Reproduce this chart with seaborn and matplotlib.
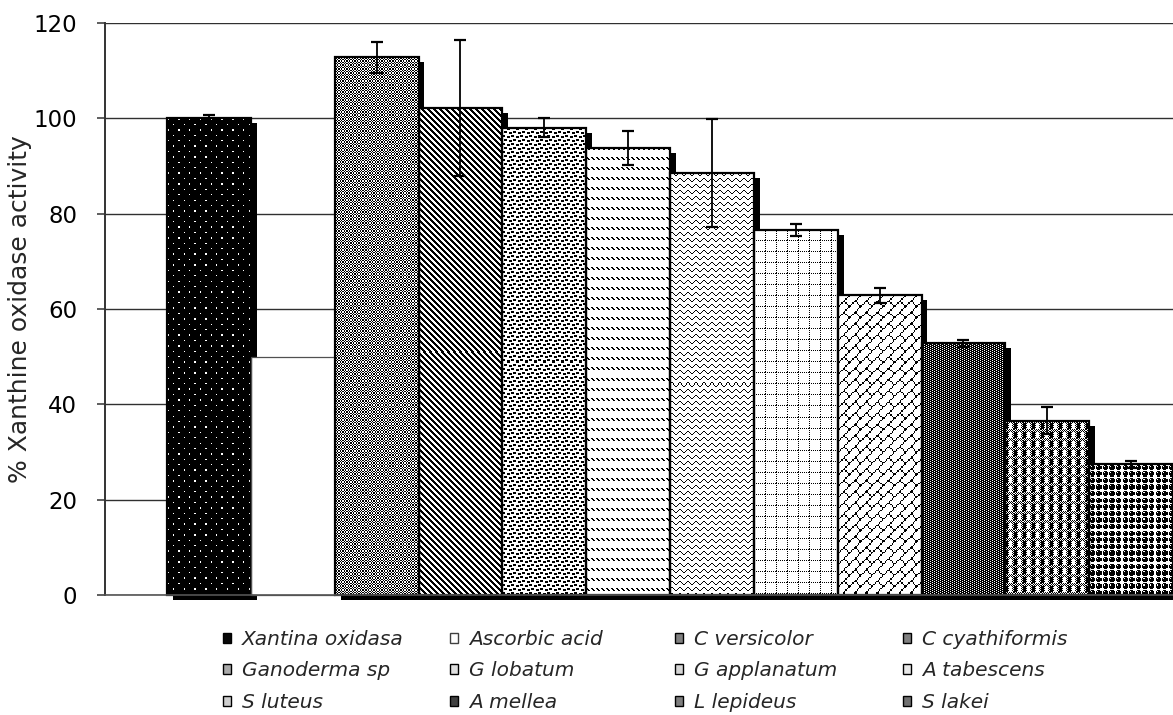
import numpy as np
import pandas as pd
import matplotlib
matplotlib.use("Agg")
import matplotlib.pyplot as plt
import matplotlib.patheffects as pe
from matplotlib.patches import Rectangle, Patch
import seaborn as sns

# ---- data -------------------------------------------------------------
samples = ["Xantina oxidasa", "Ascorbic acid", "C versicolor", "C cyathiformis",
           "Ganoderma sp", "G lobatum", "G applanatum", "A tabescens",
           "S luteus", "A mellea", "L lepideus", "S lakei"]
activity = [100.0, 50.0, 112.8, 102.2, 98.0, 93.8, 88.6, 76.6, 62.9, 52.8, 36.6, 27.4]
activity_sd = [0.6, np.nan, 3.2, 14.3, 2.0, 3.6, 11.3, 1.2, 1.6, 0.8, 2.8, 0.7]
y_ticks = [0, 20, 40, 60, 80, 100, 120]
y_label = "% Xanthine oxidase activity"


# ---- fill patterns (1 = black pixel) ------------------------------------
def rows_to_tile(rows):
    return np.array([[1 if ch == "1" else 0 for ch in r] for r in rows], dtype=float)


def checker(h, w):
    r, c = np.indices((h, w))
    return ((r + c) % 2 == 0).astype(float)


def stripes_down(period, dark):
    r, c = np.indices((period, period))
    return (((c - r) % period) < dark).astype(float)


def dotted_grid(n):
    t = np.zeros((n, n))
    t[0, ::2] = 1
    t[::2, 0] = 1
    return t


def confetti(h, w, spots, sh, sw):
    t = np.zeros((h, w))
    for r, c in spots:
        for i in range(sh):
            for j in range(sw):
                t[(r + i) % h, (c + j) % w] = 1
    return t


def plaid():
    t = np.zeros((9, 9))
    t[0:3, :] = checker(3, 9)
    t[3:, 0:3] = 1
    t[3:, 3] = checker(6, 1)[:, 0]
    t[3:, 7:9] = checker(6, 2)
    return t


dots_tile = np.ones((8, 8))
dots_tile[0, 0] = 0
dots_tile[4, 4] = 0

patterns = {
    "Xantina oxidasa": (dots_tile, 1.35),
    "Ascorbic acid": (np.zeros((1, 1)), 1.0),
    "C versicolor": (checker(2, 2), 1.35),
    "C cyathiformis": (stripes_down(6, 3), 1.0),
    "Ganoderma sp": (confetti(8, 9, [(0, 0), (1, 5), (4, 2), (5, 7)], 2, 3), 1.0),
    "G lobatum": (rows_to_tile([
        "11...",
        ".11..",
        "..11.",
        ".....",
        ".....",
        ".....",
        ".....",
        ".....",
        ".....",
        ".....",
    ]), 1.0),
    "G applanatum": (rows_to_tile([
        ".11.....",
        "1..1....",
        "....1..1",
        ".....11.",
        "........",
        "........",
    ]), 1.0),
    "A tabescens": (dotted_grid(11), 1.0),
    "S luteus": (rows_to_tile([
        ".......1",
        "......1.",
        ".....1..",
        "....1...",
        "...11...",
        "..1..1..",
        ".1....1.",
        "1......1",
    ]), 1.4),
    "A mellea": (rows_to_tile([
        ".111",
        "11.1",
        ".111",
        "11.1",
    ]), 1.0),
    "L lepideus": (plaid(), 1.0),
    "S lakei": (rows_to_tile([
        ".111..",
        "1.111.",
        "11111.",
        "11111.",
        ".111..",
        "......",
    ]), 1.1),
}

# ---- style ------------------------------------------------------------
sns.set_style("white")
plt.rcParams["font.family"] = ["DejaVu Sans"]
plt.rcParams["axes.linewidth"] = 1.2

fig = plt.figure(figsize=(11.73, 7.15), dpi=100)
ax = fig.add_axes([105 / 1173, 1 - 595 / 715, 1 - 105 / 1173, 572 / 715])

df = pd.DataFrame({"sample": samples, "activity": activity})
sns.barplot(data=df, x="sample", y="activity", order=samples, color="white",
            saturation=1, width=1.0, errorbar=None, edgecolor="none",
            linewidth=0, ax=ax)

ax.set_ylim(0, 120)
ax.set_xlim(-1.24, 11.5)

bars = list(ax.patches)
shadow = [pe.SimplePatchShadow(offset=(4.3, -3.6), shadow_rgbFace="black", alpha=1.0),
          pe.Normal()]

for patch, name in zip(bars, samples):
    tile, scale = patterns[name]
    plain = tile.max() == 0
    patch.set_zorder(1)
    patch.set_clip_on(False)
    if not plain:
        patch.set_path_effects(shadow)
    x0, y0 = patch.get_x(), patch.get_y()
    w, h = patch.get_width(), patch.get_height()
    (px0, py0), (px1, py1) = ax.transData.transform([(x0, y0), (x0 + w, y0 + h)])
    nw, nh = int(round(px1 - px0)), int(round(py1 - py0))
    rr, cc = np.indices((nh, nw))
    img = tile[(np.floor(rr / scale).astype(int)) % tile.shape[0],
               (np.floor(cc / scale).astype(int)) % tile.shape[1]]
    if not plain:
        ax.imshow(img, extent=(x0, x0 + w, y0, y0 + h), origin="upper",
                  cmap="gray_r", vmin=0, vmax=1, interpolation="nearest",
                  aspect="auto", zorder=1.5)
    ax.add_patch(Rectangle((x0, y0), w, h, fill=False,
                           edgecolor="#505050" if plain else "black",
                           linewidth=0.9 if plain else 1.6,
                           zorder=2, clip_on=False))

# error bars centred on the drawn bars
centers = np.array([p.get_x() + p.get_width() / 2 for p in bars])
vals = np.array(activity)
sds = np.array(activity_sd)
has_sd = ~np.isnan(sds)
ax.errorbar(centers[has_sd], vals[has_sd], yerr=sds[has_sd], fmt="none",
            ecolor="black", elinewidth=1.3, capsize=4.3, capthick=1.6, zorder=3)

ax.set_ylim(0, 120)
ax.set_xlim(-1.24, 11.5)
ax.set_yticks(y_ticks)
ax.set_xticks([])
ax.set_xlabel("")
ax.set_ylabel(y_label, fontsize=18)
ax.yaxis.set_label_coords(-0.068, 0.5)
ax.tick_params(axis="y", direction="out", length=6, width=1.1, pad=14,
               labelsize=16.5, colors="#333333", labelcolor="black", left=True)
ax.yaxis.grid(True, color="#303030", linewidth=1.0)
ax.set_axisbelow(True)
for side in ("top", "right"):
    ax.spines[side].set_visible(False)
ax.spines["left"].set_color("#333333")
ax.spines["left"].set_linewidth(1.4)
ax.spines["bottom"].set_color("#555555")
ax.spines["bottom"].set_linewidth(1.2)

# legend: four columns, entries filled row by row
col_x = [223, 450, 675, 903]
for k, cx in enumerate(col_x):
    names = samples[k::4]
    handles = []
    for n in names:
        tile, _ = patterns[n]
        tone = 1 - tile.mean()
        handles.append(Patch(facecolor=(tone, tone, tone),
                             edgecolor="#404040" if tile.max() == 0 else "black",
                             linewidth=1.0))
    fig.legend(handles, names, loc="upper left",
               bbox_to_anchor=(cx / 1173, 1 - 630 / 715),
               bbox_transform=fig.transFigure, frameon=False,
               handlelength=0.4, handleheight=0.4, handletextpad=0.55,
               labelspacing=0.62, borderpad=0, borderaxespad=0,
               prop={"size": 14.5, "style": "italic"})

fig.savefig("out.png", dpi=100)
